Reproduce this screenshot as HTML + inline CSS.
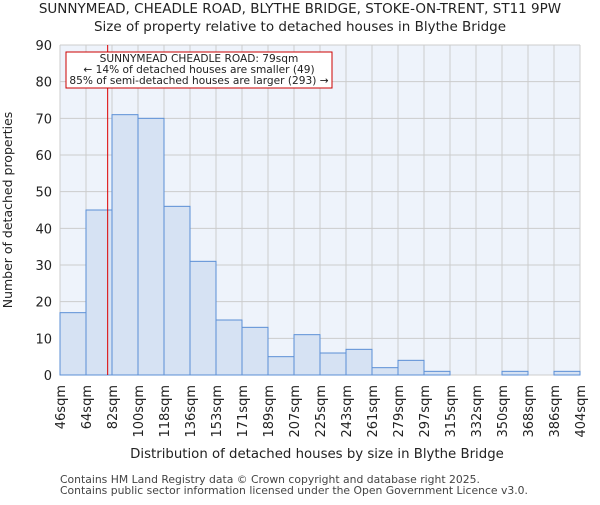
<!DOCTYPE html>
<html><head><meta charset="utf-8"><style>
body{margin:0;background:#fff;font-family:"Liberation Sans","DejaVu Sans",sans-serif}
svg text{font-family:"DejaVu Sans","Liberation Sans",sans-serif}
</style></head><body>
<svg id="c" width="600" height="500" viewBox="0 0 600 500">
<text x="300" y="13" text-anchor="middle" font-size="13.5" fill="#222">SUNNYMEAD, CHEADLE ROAD, BLYTHE BRIDGE, STOKE-ON-TRENT, ST11 9PW</text>
<text x="300" y="31" text-anchor="middle" font-size="13.5" fill="#222">Size of property relative to detached houses in Blythe Bridge</text>
<rect x="60" y="45" width="520" height="330" fill="#eef3fb"/>
<g id="grid"></g><g id="bars"></g><g id="axes"></g>
<text transform="translate(12,210) rotate(-90)" text-anchor="middle" font-size="12.5" fill="#222">Number of detached properties</text>
<text x="317" y="458" text-anchor="middle" font-size="13.3" fill="#222">Distribution of detached houses by size in Blythe Bridge</text>
<text x="60" y="483" font-size="10.8" fill="#444">Contains HM Land Registry data © Crown copyright and database right 2025.</text>
<text x="60" y="494" font-size="10.8" fill="#444">Contains public sector information licensed under the Open Government Licence v3.0.</text>
</svg>
<script>
const categories=["46sqm","64sqm","82sqm","100sqm","118sqm","136sqm","153sqm","171sqm","189sqm","207sqm","225sqm","243sqm","261sqm","279sqm","297sqm","315sqm","332sqm","350sqm","368sqm","386sqm","404sqm"];
const counts=[17,45,71,70,46,31,15,13,5,11,6,7,2,4,1,0,0,1,0,1];
const yTicks=[0,10,20,30,40,50,60,70,80,90];
const binStarts=[46,64,82,100,118,136,153,171,189,207,225,243,261,279,297,315,332,350,368,386,404];
const markerSize=79;
const NS="http://www.w3.org/2000/svg";
const L=60,R=580,T=45,B=375,yMax=90;
const n=counts.length,bw=(R-L)/n;
const xi=i=>L+i*bw;
const y=v=>B-v/yMax*(B-T);
function xs(s){for(let i=0;i<n;i++){if(s<=binStarts[i+1])return xi(i)+bw*(s-binStarts[i])/(binStarts[i+1]-binStarts[i]);}return R;}
function mk(t,a,p){const e=document.createElementNS(NS,t);for(const k in a)e.setAttribute(k,a[k]);p.appendChild(e);return e;}
const g=document.getElementById('grid'),b=document.getElementById('bars'),ax=document.getElementById('axes');
yTicks.forEach(v=>{
 const l=mk('line',{x1:L,x2:R,y1:y(v),y2:y(v),stroke:'#cccccc','stroke-width':1},g);
 
 
 const t=mk('text',{x:L-8,y:y(v)+5,'text-anchor':'end','font-size':13,fill:'#222'},ax);
 t.textContent=v;
 
 
});
categories.forEach((c,i)=>{
 const l=mk('line',{x1:xi(i),x2:xi(i),y1:T,y2:B,stroke:'#cccccc','stroke-width':1},g);
 
 
 const t=mk('text',{transform:`translate(${xi(i)+5},${B+10}) rotate(-90)`,'text-anchor':'end','font-size':13,fill:'#222'},ax);
 t.textContent=c;
 
 
});
counts.forEach((v,i)=>{
 if(v<=0)return;
 const r=mk('rect',{x:xi(i),y:y(v),width:bw,height:B-y(v),fill:'#d6e2f3',stroke:'#5b8fd6','stroke-width':1},b);
 
 
});
const mx=xs(markerSize);
const ml=mk('line',{x1:mx,x2:mx,y1:T,y2:B,stroke:'#dd0000','stroke-width':1},ax);


const box=mk('rect',{x:66,y:52,width:266,height:36,fill:'#fff',stroke:'#cc0000','stroke-width':1},ax);


["SUNNYMEAD CHEADLE ROAD: 79sqm","← 14% of detached houses are smaller (49)","85% of semi-detached houses are larger (293) →"].forEach((s,i)=>{
 const t=mk('text',{x:199,y:62+i*11,'text-anchor':'middle','font-size':10.6,fill:'#222'},ax);
 t.textContent=s;
 
 
});
</script>
</body></html>
